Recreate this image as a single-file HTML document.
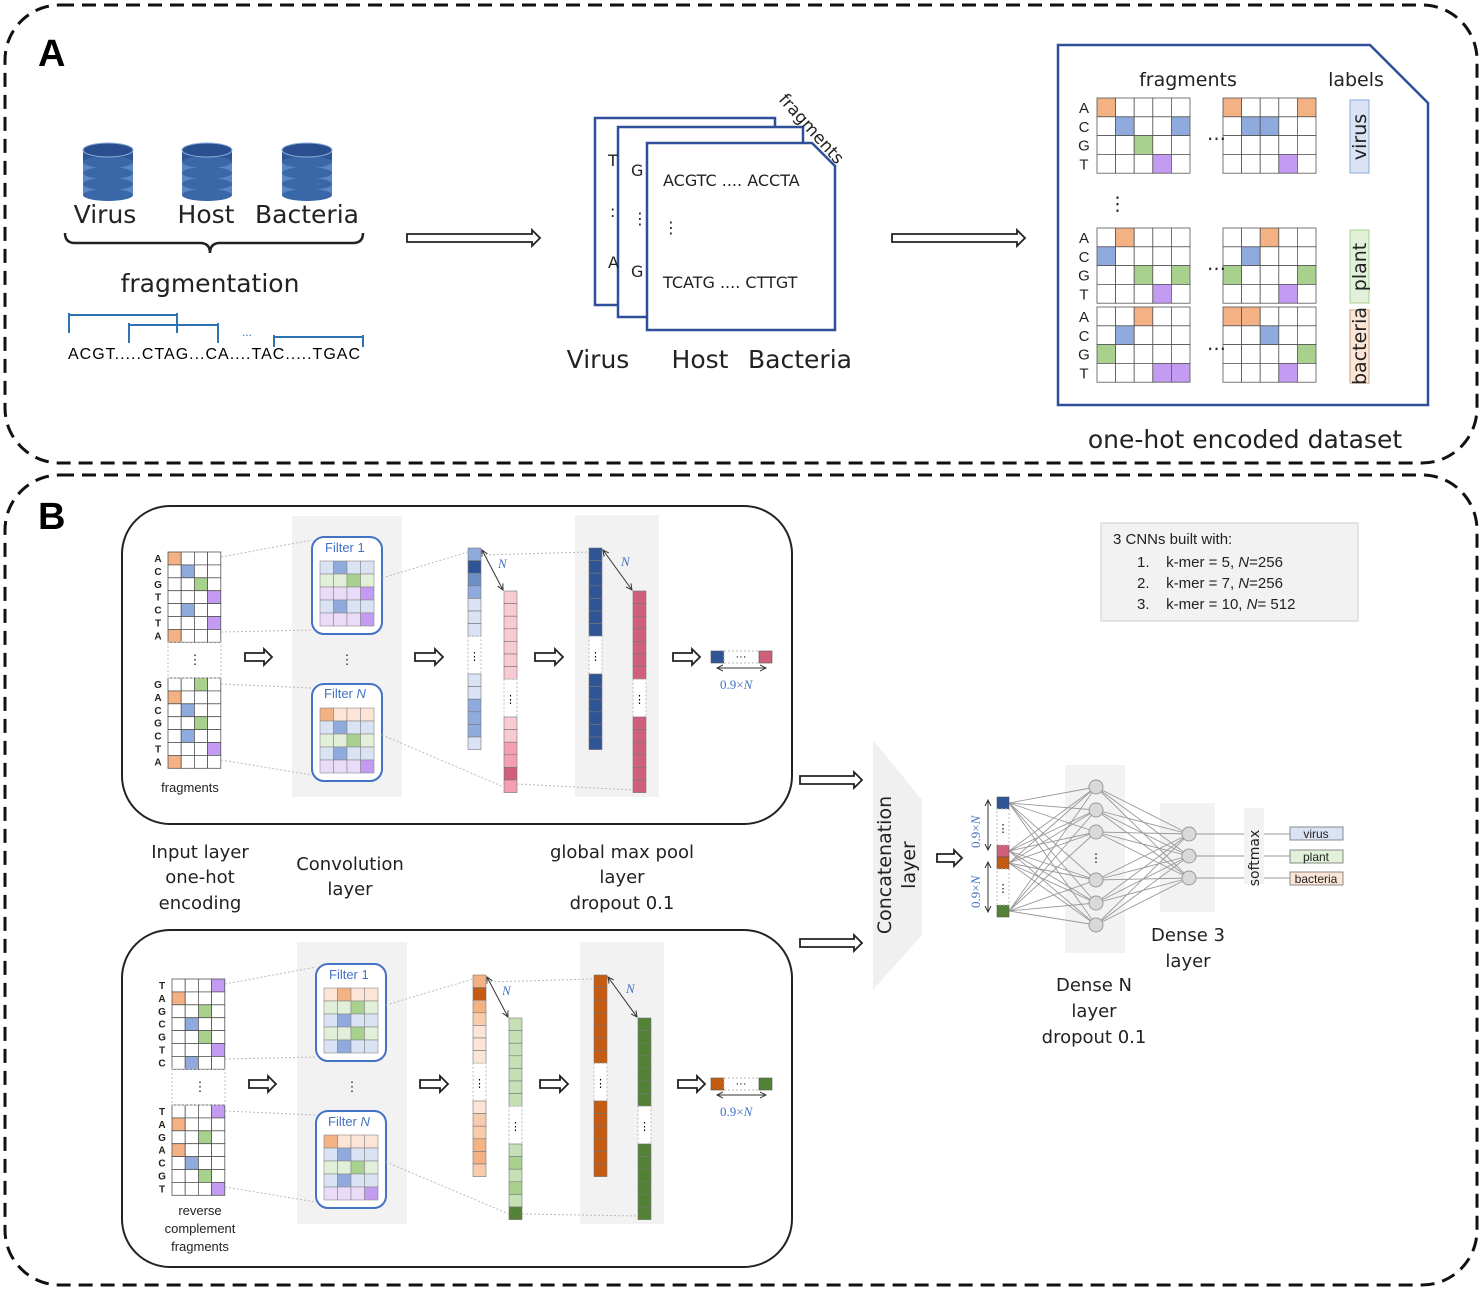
<!DOCTYPE html>
<html><head><meta charset="utf-8"><style>
body{margin:0;background:#fff}
svg{display:block;font-family:"Liberation Sans",sans-serif}
.c{font-family:"DejaVu Sans","Liberation Sans",sans-serif}
</style></head><body>
<svg id="s" width="1484" height="1292" viewBox="0 0 1484 1292" xmlns="http://www.w3.org/2000/svg">
<defs>
<marker id="ah" markerWidth="8" markerHeight="8" refX="6" refY="4" orient="auto-start-reverse"><path d="M0,1 L6,4 L0,7" fill="none" stroke="#333" stroke-width="1"/></marker>
</defs>
<rect x="5" y="5" width="1472" height="458" rx="55" fill="none" stroke="#111" stroke-width="3" stroke-dasharray="14,8"/>
<rect x="5" y="475" width="1472" height="810" rx="55" fill="none" stroke="#111" stroke-width="3" stroke-dasharray="14,8"/>
<text x="38" y="66" font-size="38" font-weight="bold">A</text>
<text x="38" y="529" font-size="38" font-weight="bold">B</text>

<g id="gA"></g>
<g class="c" font-size="25" text-anchor="middle" fill="#222">
<text x="105" y="223">Virus</text><text x="206" y="223">Host</text><text x="307" y="223">Bacteria</text>
<text x="210" y="292">fragmentation</text>
<text x="598" y="368">Virus</text><text x="700" y="368">Host</text><text x="800" y="368">Bacteria</text>
<text x="1245" y="448">one-hot encoded dataset</text>
</g>
<path d="M65,233 q0,10 10,10 h125 q10,0 10,10 q0,-10 10,-10 h133 q10,0 10,-10" fill="none" stroke="#222" stroke-width="2.5"/>
<text x="68" y="359" font-size="16" textLength="292" lengthAdjust="spacing">ACGT.....CTAG...CA....TAC.....TGAC</text>
<text x="242" y="336" font-size="12" fill="#2e74b5">...</text>
<g stroke="#2e74b5" stroke-width="2" fill="none">
<path d="M69,313v20M69,315h108M177,313v20M129,323v20M129,325h89M218,323v20M274,335v12M274,337h89M363,335v12"/>
</g>
<!-- pages -->
<rect x="595" y="118" width="180" height="187" fill="#fff" stroke="#2f4f9a" stroke-width="2.5"/>
<rect x="618" y="127" width="185" height="190" fill="#fff" stroke="#2f4f9a" stroke-width="2.5"/>
<path d="M647,143 H812 L835,166 V330 H647 Z" fill="#fff" stroke="#2f4f9a" stroke-width="2.5"/>
<g class="c" font-size="16" fill="#222">
<text x="608" y="166">T</text><text x="610" y="217">:</text><text x="608" y="268">A</text>
<text x="631" y="176">G</text><text x="632" y="224">⋮</text><text x="631" y="277">G</text>
<text x="663" y="186">ACGTC .... ACCTA</text><text x="663" y="233">⋮</text>
<text x="663" y="288">TCATG .... CTTGT</text>
<text x="0" y="0" font-size="17" transform="translate(778,100) rotate(48)">fragments</text>
</g>
<!-- dataset box -->
<path d="M1058,45 H1370 L1428,103 V405 H1058 Z" fill="#fff" stroke="#2f4f9a" stroke-width="2.5"/>
<g class="c" font-size="19" fill="#222" text-anchor="middle"><text x="1188" y="86">fragments</text><text x="1356" y="86">labels</text></g>
<g id="gD"></g>
<g class="c" font-size="19" fill="#222">
<text x="1207" y="140">…</text><text x="1207" y="270">…</text><text x="1207" y="350">…</text>
<text x="1108" y="210">⋮</text>
</g>
<rect x="1350" y="100" width="19" height="73" fill="#dae3f3" stroke="#8ea9db"/>
<rect x="1350" y="230" width="19" height="73" fill="#e2f0d9" stroke="#a9d18e"/>
<rect x="1350" y="310" width="19" height="73" fill="#fbe5d6" stroke="#c9a27e"/>
<g class="c" font-size="19" fill="#222" text-anchor="middle">
<text transform="translate(1366,137) rotate(-90)">virus</text>
<text transform="translate(1366,267) rotate(-90)">plant</text>
<text transform="translate(1366,346) rotate(-90)">bacteria</text>
</g>

<!-- B panel -->
<rect x="122" y="506" width="670" height="318" rx="48" fill="none" stroke="#222" stroke-width="2"/>
<rect x="122" y="930" width="670" height="337" rx="48" fill="none" stroke="#222" stroke-width="2"/>
<rect x="292" y="516" width="110" height="281" fill="#f2f2f2"/>
<rect x="575" y="515" width="84" height="282" fill="#f2f2f2"/>
<rect x="297" y="942" width="110" height="282" fill="#f2f2f2"/>
<rect x="580" y="942" width="84" height="282" fill="#f2f2f2"/>
<g id="gB"></g>
<g font-size="13" fill="#4472c4" font-family="Liberation Serif,serif">
<text x="325" y="552" font-family="Liberation Sans">Filter 1</text>
<text x="324" y="698" font-family="Liberation Sans">Filter <tspan font-style="italic">N</tspan></text>
<text x="329" y="979" font-family="Liberation Sans">Filter 1</text>
<text x="328" y="1126" font-family="Liberation Sans">Filter <tspan font-style="italic">N</tspan></text>
<text x="498" y="568" font-style="italic">N</text><text x="621" y="566" font-style="italic">N</text>
<text x="502" y="995" font-style="italic">N</text><text x="626" y="993" font-style="italic">N</text>
<text x="720" y="689">0.9×<tspan font-style="italic">N</tspan></text>
<text x="720" y="1116">0.9×<tspan font-style="italic">N</tspan></text>
<text transform="translate(980,848) rotate(-90)">0.9×<tspan font-style="italic">N</tspan></text>
<text transform="translate(980,908) rotate(-90)">0.9×<tspan font-style="italic">N</tspan></text>
</g>
<g font-size="13" fill="#222" text-anchor="middle">
<text x="190" y="792">fragments</text>
<text x="200" y="1215">reverse</text><text x="200" y="1233">complement</text><text x="200" y="1251">fragments</text>
<text x="195" y="664">⋮</text><text x="347" y="664">⋮</text><text x="200" y="1091">⋮</text><text x="352" y="1091">⋮</text>
</g>
<g class="c" font-size="18" fill="#222" text-anchor="middle">
<text x="200" y="858">Input layer</text><text x="200" y="883">one-hot</text><text x="200" y="909">encoding</text>
<text x="350" y="870">Convolution</text><text x="350" y="895">layer</text>
<text x="622" y="858">global max pool</text><text x="622" y="883">layer</text><text x="622" y="909">dropout 0.1</text>
<text x="1188" y="941">Dense 3</text><text x="1188" y="967">layer</text>
<text x="1094" y="991">Dense N</text><text x="1094" y="1017">layer</text><text x="1094" y="1043">dropout 0.1</text>
</g>
<path d="M873,740 L922,800 V935 L873,990 Z" fill="#f0f0f0"/>
<g class="c" font-size="19" fill="#222" text-anchor="middle">
<text transform="translate(891,865) rotate(-90)">Concatenation</text>
<text transform="translate(915,865) rotate(-90)">layer</text>
</g>
<rect x="1065" y="765" width="60" height="188" fill="#f2f2f2"/>
<rect x="1160" y="803" width="55" height="109" fill="#f2f2f2"/>
<rect x="1244" y="808" width="20" height="76" fill="#f2f2f2"/>
<g id="gN"></g>
<text class="c" transform="translate(1259,858) rotate(-90)" font-size="14" text-anchor="middle" fill="#222">softmax</text>
<rect x="1290" y="827" width="53" height="13" fill="#dae3f3" stroke="#888"/>
<rect x="1290" y="850" width="53" height="13" fill="#e2f0d9" stroke="#888"/>
<rect x="1290" y="872" width="53" height="13" fill="#fbe5d6" stroke="#888"/>
<g font-size="12" fill="#222" text-anchor="middle"><text x="1316" y="838">virus</text><text x="1316" y="861">plant</text><text x="1316" y="883">bacteria</text></g>
<rect x="1101" y="523" width="257" height="98" fill="#f2f2f2" stroke="#ccc"/>
<g font-size="15" fill="#222">
<text x="1113" y="544">3 CNNs built with:</text>
<text x="1137" y="567">1.&#160;&#160;&#160;&#160;k-mer = 5, <tspan font-style="italic">N</tspan>=256</text>
<text x="1137" y="588">2.&#160;&#160;&#160;&#160;k-mer = 7, <tspan font-style="italic">N</tspan>=256</text>
<text x="1137" y="609">3.&#160;&#160;&#160;&#160;k-mer = 10, <tspan font-style="italic">N</tspan>= 512</text>
</g>
</svg>
<script>
var NS="http://www.w3.org/2000/svg",S=document.getElementById('s');
function el(t,a,p){var e=document.createElementNS(NS,t);for(var k in a)e.setAttribute(k,a[k]);(p||S).appendChild(e);return e;}
var O='#f4b183',B='#8faadc',G='#a9d18e',P='#c39bf2';
[108,207,307].forEach(function(x){for(var i=3;i>=0;i--){var y=150+i*11;el('rect',{x:x-25,y:y,width:50,height:12,fill:i==0?'#2f5597':'#5b86c5'});el('ellipse',{cx:x,cy:y+12,rx:25,ry:6,fill:'#3a67a8'});}
el('ellipse',{cx:x,cy:150,rx:25,ry:7,fill:'#2a4f8f',stroke:'#8fb0dd','stroke-width':1});});
function harrow(x1,x2,y,h){var a=h||5,w=a*2;el('path',{d:'M'+x1+','+(y-a)+'H'+(x2-w)+'V'+(y-a-4)+'L'+x2+','+y+'L'+(x2-w)+','+(y+a+4)+'V'+(y+a)+'H'+x1+'Z',fill:'#fff',stroke:'#222','stroke-width':1.8});}
harrow(407,540,238,4);harrow(892,1025,238,4);
harrow(245,272,657,4);harrow(415,443,657,4);harrow(535,563,657,4);harrow(673,700,657,4);
harrow(249,276,1084,4);harrow(420,448,1084,4);harrow(540,568,1084,4);harrow(678,705,1084,4);
harrow(800,862,780,4);harrow(800,862,943,4);harrow(937,962,858,4);
var letters='ACGT';
function grid(x,y,cols,rows,cw,ch,col,g,sw){for(var r=0;r<rows;r++)for(var c=0;c<cols;c++){el('rect',{x:x+c*cw,y:y+r*ch,width:cw,height:ch,fill:(col[r]&&col[r][c])||'#fff',stroke:sw||'#555','stroke-width':0.8},g);}}
var gD=document.getElementById('gD');
function m(spec){var cs=[O,B,G,P],res=[];for(var r=0;r<spec.length;r++){res[r]=[];for(var c=0;c<spec[r].length;c++)res[r][c]=spec[r][c]=='1'?cs[r]:null;}return res;}
var blocks=[[98,m(['10000','01001','00100','00010']),m(['10001','01100','00000','00010'])],
[228,m(['01000','10000','00101','00010']),m(['00100','01000','10001','00010'])],
[307,m(['00100','01000','10000','00011']),m(['11000','00100','00001','00010'])]];
blocks.forEach(function(b){grid(1097,b[0],5,4,18.6,18.8,b[1],gD);grid(1223,b[0],5,4,18.6,18.8,b[2],gD);
for(var i=0;i<4;i++){var t=el('text',{x:1084,y:b[0]+15+i*18.8,'font-size':15,'text-anchor':'middle',fill:'#222'},gD);t.textContent=letters[i];}});
var gB=document.getElementById('gB');
function oh(x,y,seq){var map={A:0,C:1,G:2,T:3},cs=[O,B,G,P],col=[];for(var i=0;i<seq.length;i++){col[i]=[];col[i][map[seq[i]]]=cs[map[seq[i]]];}
grid(x,y,4,seq.length,13.2,12.9,col,gB);
for(var i=0;i<seq.length;i++){var t=el('text',{x:x-10,y:y+10+i*12.9,'font-size':10,'font-weight':'bold','text-anchor':'middle',fill:'#222'},gB);t.textContent=seq[i];}}
oh(168,552,'ACGTCTA');oh(168,678,'GACGCTA');oh(172,979,'TAGCGTC');oh(172,1105,'TAGACGT');
el('rect',{x:168,y:642,width:53,height:36,fill:'none',stroke:'#bbb','stroke-dasharray':'2,2'},gB);
el('rect',{x:172,y:1069,width:53,height:36,fill:'none',stroke:'#bbb','stroke-dasharray':'2,2'},gB);
function filt(x,y,rows){el('rect',{x:x,y:y,width:70,height:97,rx:12,fill:'#fff',stroke:'#4472c4','stroke-width':2},gB);
rows.forEach(function(r,i){for(var c=0;c<4;c++)el('rect',{x:x+8+c*13.5,y:y+24+i*13,width:13.5,height:13,fill:r[1][c]?r[2]:r[0],stroke:'#888','stroke-width':0.6},gB);});}
var LB='#dae3f3',LG='#e2f0d9',LP='#eadcf8',LO='#fce4d6';
function R(l,d,s){return [l,s.split('').map(function(ch){return ch=='1'}),d];}
filt(312,537,[R(LB,B,'0100'),R(LG,G,'0010'),R(LP,P,'0001'),R(LB,B,'0100'),R(LP,P,'0001')]);
filt(312,684,[R(LO,O,'1000'),R(LB,B,'0100'),R(LG,G,'0010'),R(LB,B,'0100'),R(LP,P,'0001')]);
filt(316,964,[R(LO,O,'0100'),R(LG,G,'0010'),R(LB,B,'0100'),R(LG,G,'0010'),R(LB,B,'0100')]);
filt(316,1111,[R(LO,O,'1000'),R(LB,B,'0100'),R(LG,G,'0010'),R(LB,B,'0100'),R(LP,P,'0001')]);
function col(x,y,n,colors){for(var i=0;i<n;i++)el('rect',{x:x,y:y+i*12.6,width:13,height:12.6,fill:colors[i%colors.length],stroke:'#777','stroke-width':0.6},gB);}
function column(x,y1,n1,y2,n2,c1,c2){col(x,y1,n1,c1);el('rect',{x:x,y:y1+n1*12.6,width:13,height:y2-y1-n1*12.6,fill:'#fff',stroke:'#bbb','stroke-dasharray':'2,2'},gB);
var t=el('text',{x:x+6.5,y:(y1+n1*12.6+y2)/2+5,'font-size':11,'text-anchor':'middle'},gB);t.textContent='⋮';col(x,y2,n2,c2);}
column(468,548,7,674,6,['#8faadc','#2f5597','#6f8fc4','#8faadc','#dae3f3','#dae3f3','#dae3f3'],['#dae3f3','#dae3f3','#8faadc','#8faadc','#8faadc','#dae3f3']);
column(504,591,7,717,6,['#f8cbd4'],['#f8cbd4','#f8cbd4','#f4a0b2','#f4a0b2','#d0607a','#f4a0b2']);
column(589,548,7,674,6,['#2f5597'],['#2f5597']);
column(633,591,7,717,6,['#d0607a'],['#d0607a']);
column(473,975,7,1101,6,['#f4b183','#c55a11','#f4b183','#f8cbad','#fce4d6','#fce4d6','#fce4d6'],['#fce4d6','#f8cbad','#f8cbad','#f4b183','#f4b183','#f8cbad']);
column(509,1018,7,1144,6,['#c5e0b4'],['#c5e0b4','#a9d18e','#c5e0b4','#a9d18e','#c5e0b4','#538135']);
column(594,975,7,1101,6,['#c55a11'],['#c55a11']);
column(638,1018,7,1144,6,['#538135'],['#538135']);
[[482,550,503,590],[603,550,632,590],[487,977,508,1017],[608,977,637,1017]].forEach(function(a){el('line',{x1:a[0],y1:a[1],x2:a[2],y2:a[3],stroke:'#333','marker-start':'url(#ah)','marker-end':'url(#ah)'},gB);});
function outv(x,y,c1,c2){el('rect',{x:x,y:y,width:13,height:12,fill:c1,stroke:'#555','stroke-width':0.6},gB);el('rect',{x:x+13,y:y,width:35,height:12,fill:'#fff',stroke:'#bbb','stroke-dasharray':'2,2'},gB);
var t=el('text',{x:x+30,y:y+9,'font-size':11,'text-anchor':'middle'},gB);t.textContent='···';el('rect',{x:x+48,y:y,width:13,height:12,fill:c2,stroke:'#555','stroke-width':0.6},gB);
el('line',{x1:x+6,y1:y+17,x2:x+55,y2:y+17,stroke:'#333','marker-start':'url(#ah)','marker-end':'url(#ah)'},gB);}
outv(711,651,'#2f5597','#d0607a');outv(711,1078,'#c55a11','#538135');
var dl=[[221,557,312,540],[221,632,312,630],[221,684,312,688],[221,760,312,775],[382,578,468,552],[382,735,504,787],[481,555,589,552],[517,784,633,790],
[225,984,316,967],[225,1059,316,1057],[225,1111,316,1115],[225,1187,316,1202],[386,1005,473,979],[386,1162,509,1214],[486,982,594,979],[522,1214,638,1216]];
dl.forEach(function(a){el('line',{x1:a[0],y1:a[1],x2:a[2],y2:a[3],stroke:'#bbb','stroke-dasharray':'2,2'},gB);});
var gN=document.getElementById('gN');
var inp=[803,851,863,911],h=[787,810,832,880,903,925],o=[834,856,878];
inp.forEach(function(y){h.forEach(function(y2){el('line',{x1:1009,y1:y,x2:1096,y2:y2,stroke:'#999','stroke-width':0.9},gN);});});
h.forEach(function(y){o.forEach(function(y2){el('line',{x1:1096,y1:y,x2:1189,y2:y2,stroke:'#999','stroke-width':0.9},gN);});});
o.forEach(function(y){el('line',{x1:1189,y1:y,x2:1290,y2:y,stroke:'#999','stroke-width':0.9},gN);});
el('rect',{x:1244,y:808,width:20,height:76,fill:'#f2f2f2'},gN);
h.forEach(function(y){el('circle',{cx:1096,cy:y,r:7,fill:'#d9d9d9',stroke:'#999'},gN);});
o.forEach(function(y){el('circle',{cx:1189,cy:y,r:7,fill:'#d9d9d9',stroke:'#999'},gN);});
var tt=el('text',{x:1096,y:862,'font-size':12,'text-anchor':'middle'},gN);tt.textContent='⋮';
[[797,'#2f5597'],[845,'#d0607a'],[857,'#c55a11'],[905,'#538135']].forEach(function(a){el('rect',{x:997,y:a[0],width:12,height:12,fill:a[1],stroke:'#555','stroke-width':0.6},gN);});
el('rect',{x:997,y:809,width:12,height:36,fill:'#fff',stroke:'#bbb','stroke-dasharray':'2,2'},gN);
el('rect',{x:997,y:869,width:12,height:36,fill:'#fff',stroke:'#bbb','stroke-dasharray':'2,2'},gN);
[[1003,832],[1003,892]].forEach(function(a){var t=el('text',{x:a[0],y:a[1],'font-size':11,'text-anchor':'middle'},gN);t.textContent='⋮';});
el('line',{x1:988,y1:800,x2:988,y2:850,stroke:'#333','marker-start':'url(#ah)','marker-end':'url(#ah)'},gN);
el('line',{x1:988,y1:862,x2:988,y2:912,stroke:'#333','marker-start':'url(#ah)','marker-end':'url(#ah)'},gN);
</script>
</body></html>
